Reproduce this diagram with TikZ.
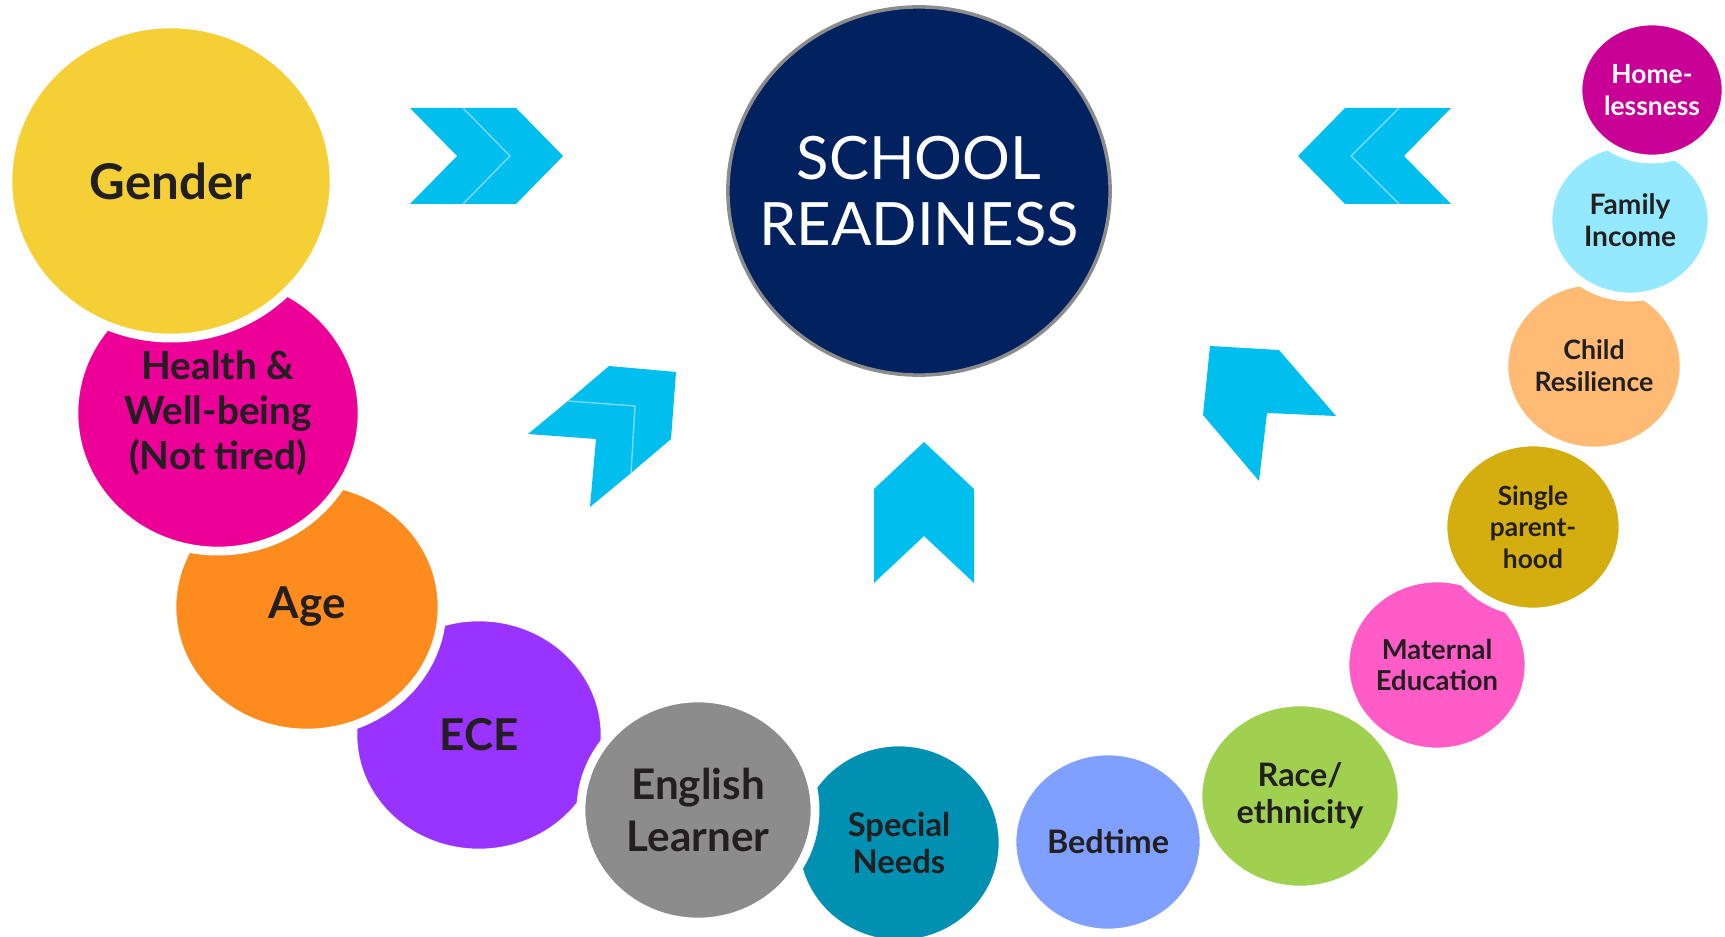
\documentclass[tikz,border=0pt]{standalone}
\usepackage{fontspec}
\setmainfont{Lato}
\usepackage{tikz}
\usetikzlibrary{shapes.geometric}

\definecolor{navy}{HTML}{02215F}
\definecolor{chevblue}{HTML}{00BEEE}
\definecolor{chevseam}{HTML}{7AD9F5}
\definecolor{inkdark}{HTML}{231F20}
\definecolor{cGender}{HTML}{F5CF36}
\definecolor{cHealth}{HTML}{EC0098}
\definecolor{cAge}{HTML}{FD8B1E}
\definecolor{cEce}{HTML}{9933FF}
\definecolor{cEnglish}{HTML}{8C8C8C}
\definecolor{cNeeds}{HTML}{0090B2}
\definecolor{cBedtime}{HTML}{80A0FF}
\definecolor{cRace}{HTML}{A0D050}
\definecolor{cMaternal}{HTML}{FF5CC8}
\definecolor{cSingle}{HTML}{D4AE0E}
\definecolor{cResilience}{HTML}{FFBA73}
\definecolor{cIncome}{HTML}{94E9FF}
\definecolor{cHomeless}{HTML}{C90095}

\newcommand{\factorfont}[2]{\bfseries\fontsize{#1}{#2}\selectfont}

\begin{document}
\begin{tikzpicture}[x=0.01cm, y=-0.01cm,
	factor/.style={ellipse, draw=white, line width=2.5pt, inner sep=0pt, align=center, text=inkdark},
	chevron/.style={fill=chevblue},
	seam/.style={draw=chevseam, line width=0.4pt}]
			\useasboundingbox (0,0) rectangle (1725,937);
			
			% Centre
			\node[ellipse, fill=navy, draw=gray!90, line width=1pt, inner sep=-10pt, minimum width=3.82cm, minimum height=3.68cm, align=center, text=white, font=\fontsize{17}{19}\selectfont] (readiness) at (919,191) {SCHOOL\\READINESS};
			
			% Arrows
			\fill[chevron] (410,108) -- (463,108) -- (510,156) -- (463,204) -- (410,204) -- (457,156) -- cycle;
			\fill[chevron] (463,108) -- (516,108) -- (563,156) -- (516,204) -- (463,204) -- (510,156) -- cycle;
			\draw[seam] (463,108) -- (510,156) -- (463,204);
			
			\fill[chevron] (1298,156) -- (1345,108) -- (1399,108) -- (1351,156) -- (1399,204) -- (1345,204) -- cycle;
			\fill[chevron] (1351,156) -- (1399,108) -- (1451,108) -- (1404,156) -- (1451,204) -- (1399,204) -- cycle;
			\draw[seam] (1399,108) -- (1351,156) -- (1399,204);
			
			\fill[chevron] (528,434) -- (568,401) -- (635,406) -- (631,473) -- (590,507) -- (596,439) -- cycle;
			\fill[chevron] (568,401) -- (609,366) -- (676,372) -- (671,439) -- (631,473) -- (635,406) -- cycle;
			\draw[seam] (568,401) -- (635,406) -- (631,473);
			
			\fill[chevron] (924,442) -- (974,489) -- (974,583) -- (924,536) -- (874,583) -- (874,489) -- cycle;
			\fill[chevron] (1210,346) -- (1279,350) -- (1336,416) -- (1267,413) -- (1259,481) -- (1203,415) -- cycle;
			
			% Factors, left and bottom
			\node[factor, fill=cNeeds, minimum width=2.08cm, minimum height=2.02cm, font=\factorfont{9.3}{10.5}] (needs) at (899,843) {Special\\Needs};
			\node[factor, fill=cEce, minimum width=2.52cm, minimum height=2.36cm, font=\factorfont{12.5}{14}] (ece) at (479,735) {ECE};
			\node[factor, fill=cEnglish, minimum width=2.34cm, minimum height=2.24cm, font=\factorfont{12}{15}] (english) at (698,810) {English\\Learner};
			\node[factor, fill=cAge, minimum width=2.70cm, minimum height=2.52cm, font=\factorfont{12.5}{14}] (age) at (307,607) {Age};
			\node[factor, fill=cHealth, minimum width=2.88cm, minimum height=2.76cm, font=\factorfont{11}{12.8}] (health) at (218,413) {Health \&\\Well-being\\(Not tired)};
			\node[factor, fill=cGender, minimum width=3.26cm, minimum height=3.14cm, font=\factorfont{14}{16}] (gender) at (171,181) {Gender};
			
			% Factors, right
			\node[factor, fill=cBedtime, minimum width=1.92cm, minimum height=1.82cm, font=\factorfont{9.2}{10.5}] (bedtime) at (1108,842) {Bedtime};
			\node[factor, fill=cRace, minimum width=2.04cm, minimum height=1.88cm, font=\factorfont{9.2}{10.5}] (race) at (1300,796) {Race/\\ethnicity};
			\node[factor, fill=cMaternal, minimum width=1.84cm, minimum height=1.74cm, font=\factorfont{7.8}{9}] (maternal) at (1437,665) {Maternal\\Education};
			\node[factor, fill=cSingle, minimum width=1.80cm, minimum height=1.70cm, font=\factorfont{7.5}{9}] (single) at (1533,527) {Single\\parent-\\hood};
			\node[factor, fill=cResilience, minimum width=1.80cm, minimum height=1.70cm, font=\factorfont{7.6}{9}] (resilience) at (1594,366) {Child\\Resilience};
			\node[factor, fill=cIncome, minimum width=1.64cm, minimum height=1.54cm, font=\factorfont{8}{9}] (income) at (1630,220) {Family\\Income};
			\node[factor, fill=cHomeless, minimum width=1.48cm, minimum height=1.38cm, text=white, font=\factorfont{7.5}{9}] (homeless) at (1652,90) {Home-\\lessness};
			
		\end{tikzpicture}
\end{document}
